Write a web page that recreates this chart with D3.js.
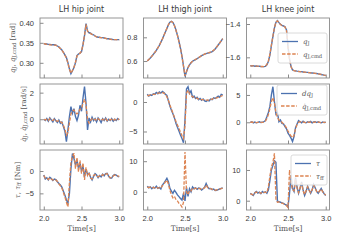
<!DOCTYPE html>
<html>
<head>
<meta charset="utf-8">
<script src="https://cdn.jsdelivr.net/npm/d3@7"></script>
<style>
  body { margin: 0; background: #fff; }
  svg { display: block; }
</style>
</head>
<body>
<div id="chart"></div>
<script>
// time samples [s]
const time = [2.00,2.02,2.04,2.06,2.08,2.10,2.12,2.14,2.16,2.18,2.20,2.22,2.24,2.26,2.28,2.30,2.32,2.34,2.36,2.38,2.40,
  2.42,2.44,2.46,2.48,2.50,2.52,2.54,2.56,2.58,2.60,2.62,2.64,2.66,2.68,2.70,2.72,2.74,2.76,2.78,2.80,
  2.82,2.84,2.86,2.88,2.90,2.92,2.94,2.96,2.98,3.00];

const joints = ["LH hip joint", "LH thigh joint", "LH knee joint"];

// joint positions [rad]
const qHip = [.348,.347,.347,.346,.346,.345,.345,.345,.344,.342,.340,.336,.332,.326,.320,.313,.300,.285,.273,.280,.288,
  .300,.318,.322,.324,.328,.345,.368,.398,.380,.375,.374,.371,.370,.367,.365,.364,.364,.363,.363,.362,
  .361,.360,.360,.359,.359,.358,.358,.358,.358,.358];
const qHipCmd = [.348,.347,.346,.346,.345,.345,.345,.344,.344,.342,.339,.336,.331,.326,.319,.312,.299,.284,.274,.281,.289,
  .301,.317,.321,.324,.329,.346,.369,.396,.379,.375,.373,.371,.369,.367,.365,.364,.363,.363,.362,.362,
  .361,.360,.359,.359,.358,.358,.358,.358,.357,.357];
const qThigh = [.600,.612,.625,.640,.656,.672,.690,.710,.732,.758,.785,.815,.845,.875,.905,.928,.935,.925,.900,.862,.818,
  .765,.708,.640,.560,.470,.510,.545,.568,.585,.598,.606,.612,.620,.628,.636,.645,.652,.658,.663,.667,
  .670,.674,.680,.690,.702,.718,.735,.752,.770,.790];
const qThighCmd = [.601,.613,.626,.641,.657,.673,.691,.711,.733,.759,.786,.816,.846,.876,.906,.929,.934,.924,.898,.860,.816,
  .763,.706,.638,.558,.475,.512,.546,.569,.586,.599,.607,.613,.621,.629,.637,.646,.653,.659,.664,.668,
  .671,.675,.681,.691,.703,.719,.736,.753,.771,.789];
const qKnee = [-1.650,-1.652,-1.650,-1.653,-1.652,-1.654,-1.653,-1.655,-1.656,-1.656,-1.654,-1.645,-1.625,-1.586,-1.530,-1.476,-1.425,-1.390,-1.380,-1.392,-1.402,
  -1.408,-1.412,-1.416,-1.436,-1.536,-1.610,-1.655,-1.676,-1.680,-1.681,-1.683,-1.684,-1.686,-1.686,-1.688,-1.689,-1.690,-1.690,-1.692,-1.693,
  -1.694,-1.695,-1.696,-1.697,-1.699,-1.701,-1.703,-1.705,-1.707,-1.708];
const qKneeCmd = [-1.651,-1.651,-1.651,-1.652,-1.653,-1.653,-1.654,-1.655,-1.655,-1.656,-1.653,-1.643,-1.622,-1.582,-1.526,-1.472,-1.422,-1.388,-1.381,-1.393,-1.403,
  -1.409,-1.413,-1.418,-1.440,-1.540,-1.612,-1.656,-1.676,-1.680,-1.682,-1.683,-1.685,-1.686,-1.687,-1.688,-1.689,-1.690,-1.691,-1.692,-1.693,
  -1.694,-1.695,-1.696,-1.698,-1.699,-1.701,-1.703,-1.705,-1.707,-1.708];

// joint velocities [rad/s]
const dqHip = [0.0,-0.1,0.05,-0.15,0.1,-0.05,-0.2,0.05,-0.1,-0.25,-0.05,-0.3,-0.2,-0.55,-0.9,-1.68,-0.8,0.2,0.95,0.45,0.8,
  0.2,-0.1,0.3,1.05,0.6,1.6,2.45,1.2,-0.8,0.1,-0.2,0.15,-0.1,0.05,-0.2,0.1,-0.05,-0.25,0.05,-0.1,
  0.1,-0.15,0.0,-0.1,0.05,-0.15,0.0,-0.1,0.05,-0.05];
const dqHipCmd = [0.0,-0.05,0.0,-0.1,0.05,-0.05,-0.1,0.0,-0.1,-0.15,-0.1,-0.2,-0.25,-0.45,-0.75,-1.2,-1.0,-0.3,0.4,0.6,0.7,
  0.5,0.4,0.5,0.75,0.8,1.2,1.5,1.1,0.0,-0.3,-0.1,0.05,-0.05,0.0,-0.1,0.05,-0.05,-0.1,0.0,-0.05,
  0.05,-0.1,0.0,-0.05,0.0,-0.1,0.0,-0.05,0.0,0.0];
const dqThigh = [1.3,1.0,1.2,1.1,1.4,1.3,1.6,1.4,1.7,1.5,1.8,1.6,1.3,1.1,0.2,-0.7,-1.4,-2.0,-2.7,-3.6,-4.3,
  -4.9,-5.6,-6.2,-6.9,-3.0,2.2,2.6,1.5,1.9,0.8,1.0,0.6,0.8,0.4,0.6,0.3,0.5,0.2,0.1,0.3,
  0.2,0.5,0.4,0.7,0.6,0.8,1.0,0.8,1.3,1.2];
const dqThighCmd = [1.1,1.1,1.2,1.2,1.3,1.3,1.4,1.5,1.5,1.6,1.6,1.5,1.3,0.9,0.3,-0.5,-1.2,-1.9,-2.6,-3.3,-3.9,
  -4.5,-5.1,-5.7,-6.2,-4.0,1.5,2.0,1.4,1.1,0.9,0.8,0.7,0.6,0.5,0.5,0.4,0.4,0.3,0.3,0.3,
  0.3,0.4,0.5,0.6,0.6,0.7,0.8,0.9,1.0,1.1];
const dqKnee = [0.0,0.1,-0.1,0.05,-0.1,0.0,0.1,-0.05,0.0,0.1,0.3,1.0,1.8,2.9,5.0,6.5,3.8,1.5,1.8,0.1,0.4,
  -0.2,-0.3,-0.8,-1.2,-2.0,-2.4,-2.9,-3.5,-2.6,-1.0,-0.3,0.3,0.1,-0.1,0.2,0.0,-0.1,0.1,0.0,0.15,
  -0.1,0.05,0.1,-0.05,0.1,0.0,-0.1,0.05,-0.05,0.0];
const dqKneeCmd = [0.0,0.05,0.0,0.0,-0.05,0.0,0.05,0.0,0.0,0.05,0.2,0.7,1.4,2.5,3.8,4.5,3.5,1.8,0.9,0.4,0.2,
  0.0,-0.3,-0.6,-1.0,-1.6,-2.1,-2.5,-2.8,-2.4,-1.2,-0.4,0.0,0.1,0.0,0.05,0.0,-0.05,0.05,0.0,0.05,
  0.0,0.0,0.05,0.0,0.05,0.0,-0.05,0.0,0.0,0.0];

// joint torques [Nm]
const tauHip = [-0.9,-1.8,-1.5,-2.0,-1.4,-1.7,-2.1,-1.8,-1.9,-2.4,-2.8,-3.1,-3.6,-4.5,-5.4,-6.5,-7.2,-5.0,0.5,3.9,2.8,
  1.3,2.5,0.6,1.7,0.0,1.0,-1.3,0.4,-0.8,-0.5,-1.4,-2.0,-1.2,-0.6,-0.9,-1.5,-1.0,-1.3,-0.7,-1.1,
  -0.6,-0.5,-1.2,-1.6,-1.6,-1.0,-0.8,-0.9,-1.2,-1.3];
const tauHipFf = [-1.0,-1.6,-1.6,-1.9,-1.5,-1.8,-2.0,-1.9,-2.0,-2.3,-2.9,-3.3,-3.8,-4.8,-5.8,-7.0,-8.0,-2.5,2.0,3.2,4.0,
  0.5,3.0,-0.2,2.4,-0.6,1.8,-2.0,0.8,-1.0,-0.3,-1.6,-1.8,-1.0,-0.8,-1.0,-1.3,-1.1,-1.2,-0.8,-1.0,
  -0.7,-0.6,-1.1,-1.5,-1.5,-1.1,-0.9,-1.0,-1.1,-1.2];
const tauThigh = [1.8,1.3,1.6,1.0,1.5,1.2,1.8,1.1,1.4,0.9,2.2,2.8,3.6,4.4,3.3,1.1,0.2,-0.5,0.5,-0.2,-1.0,
  -1.6,-2.2,-2.7,-0.5,-3.0,1.4,-1.5,1.0,0.0,1.6,1.0,1.3,0.8,1.2,1.1,0.6,1.0,1.5,2.7,1.6,
  1.0,1.1,0.7,0.9,0.4,0.5,0.7,0.9,1.1,1.3];
const tauThighFf = [1.5,1.4,1.5,1.2,1.4,1.3,1.6,1.2,1.3,1.2,2.0,2.5,3.2,3.8,2.5,0.5,-1.0,-2.0,-1.5,-2.5,-3.0,
  -3.8,-4.2,-5.0,-3.5,13.0,0.0,-1.0,0.5,0.3,1.2,1.0,1.2,0.9,1.1,1.0,0.8,1.0,1.3,2.2,1.4,
  1.0,1.0,0.8,0.8,0.5,0.6,0.7,0.9,1.0,1.2];
const tauKnee = [2.4,2.0,1.7,2.6,3.0,2.5,2.8,2.3,3.0,2.6,2.9,2.4,3.5,6.5,10.0,11.5,13.0,12.5,-0.2,-0.3,-0.5,
  -0.7,-0.9,-1.2,-1.4,-2.0,2.4,8.3,4.0,3.0,7.5,4.5,2.4,4.0,6.1,3.5,1.7,3.0,4.7,3.5,2.4,
  3.5,5.3,4.2,3.0,2.4,3.2,4.0,3.0,2.2,1.7];
const tauKneeFf = [2.2,2.1,1.9,2.5,2.8,2.6,2.7,2.4,2.8,2.7,2.8,2.6,4.5,8.0,11.0,12.5,15.4,0.5,-0.5,-0.4,-0.6,
  -0.8,-1.0,-1.3,-1.6,-2.2,10.0,6.0,3.5,3.2,7.0,4.0,2.6,4.2,5.8,3.2,2.0,3.2,4.5,3.3,2.6,
  3.6,5.0,4.0,3.0,2.6,3.3,3.8,2.9,2.3,1.8];

// y ranges and tick values
const yDomains = [
  [[0.262, 0.412], [0.457, 0.963], [-1.724, -1.364]],
  [[-1.86, 2.65], [-7.12, 3.05], [-3.97, 7.0]],
  [[-8.72, 4.7], [-5.96, 13.66], [-3.03, 16.5]]
];
const yTicks = [
  [[0.30, 0.35, 0.40], [0.6, 0.8], [-1.6, -1.4]],
  [[0, 2], [-5, 0], [0, 5]],
  [[-5, 0], [0, 10], [0, 10]]
];
const yFormats = [[".2f", ".1f", ".1f"], ["d", "d", "d"], ["d", "d", "d"]];
const xTicks = [2.0, 2.5, 3.0];

const measured = [[qHip, qThigh, qKnee], [dqHip, dqThigh, dqKnee], [tauHip, tauThigh, tauKnee]];
const commanded = [[qHipCmd, qThighCmd, qKneeCmd], [dqHipCmd, dqThighCmd, dqKneeCmd], [tauHipFf, tauThighFf, tauKneeFf]];

// layout
const W = 339, H = 241;
const colLeft = [40, 143.5, 246.5], colW = 83;
const rowTop = [18, 84, 150], rowH = 60;
const blue = "#4c72b0", orange = "#dd8452", spine = "#8a8a8a", ink = "#3a3a3a";

const svg = d3.select("#chart").append("svg")
  .attr("width", W).attr("height", H)
  .style("font-family", "'DejaVu Sans', sans-serif");

const x = d3.scaleLinear().domain([1.95, 3.05]).range([0, colW]);

for (let r = 0; r < 3; r++) {
  for (let c = 0; c < 3; c++) {
    const g = svg.append("g").attr("transform", `translate(${colLeft[c]},${rowTop[r]})`);
    const y = d3.scaleLinear().domain(yDomains[r][c]).range([rowH, 0]);
    const id = `clip${r}${c}`;
    g.append("clipPath").attr("id", id).append("rect").attr("width", colW).attr("height", rowH);

    // y axis, ticks pointing inward
    const ya = g.append("g").call(d3.axisLeft(y).tickValues(yTicks[r][c])
      .tickFormat(d3.format(yFormats[r][c])).tickSizeInner(-3.5).tickSizeOuter(0).tickPadding(6));
    ya.select(".domain").remove();
    ya.selectAll("line").attr("stroke", spine);
    ya.selectAll("text").attr("fill", ink).style("font-size", "7.5px");

    const xa = g.append("g").attr("transform", `translate(0,${rowH})`)
      .call(d3.axisBottom(x).tickValues(xTicks).tickFormat(d3.format(".1f"))
        .tickSizeInner(-3.5).tickSizeOuter(0).tickPadding(6));
    xa.select(".domain").remove();
    xa.selectAll("line").attr("stroke", spine);
    xa.selectAll("text").attr("fill", ink).style("font-size", "7.5px");
    if (r < 2) xa.selectAll("text").remove();

    const line = d3.line().x((d, i) => x(time[i])).y(d => y(d));
    const lines = g.append("g").attr("clip-path", `url(#${id})`);
    lines.append("path").datum(measured[r][c]).attr("d", line)
      .attr("fill", "none").attr("stroke", blue).attr("stroke-width", 1.4);
    lines.append("path").datum(commanded[r][c]).attr("d", line)
      .attr("fill", "none").attr("stroke", orange).attr("stroke-width", 1.3)
      .attr("stroke-dasharray", "3.5,1.6");

    g.append("rect").attr("width", colW).attr("height", rowH)
      .attr("fill", "none").attr("stroke", spine).attr("stroke-width", 0.9);

    if (r === 0) {
      g.append("text").attr("x", colW / 2).attr("y", -6).attr("text-anchor", "middle")
        .attr("fill", ink).style("font-size", "8px").text(joints[c]);
    }
    if (r === 2) {
      g.append("text").attr("x", colW / 2).attr("y", rowH + 21).attr("text-anchor", "middle")
        .attr("fill", "#555").style("font-family", "'DejaVu Serif', serif").style("font-size", "7.5px")
        .text("Time[s]");
    }
  }
}

// math-ish labels: [text, italic?, subscript?]
function richText(sel, parts) {
  parts.forEach(p => {
    const t = sel.append("tspan").text(p[0]);
    if (p[1]) t.style("font-style", "italic");
    if (p[2]) t.attr("baseline-shift", "-25%").style("font-size", "75%");
  });
  return sel;
}

const yLabels = [
  [["q", 1], ["J", 0, 1], [", ", 0], ["q", 1], ["J,cmd", 0, 1], [" [rad]", 0]],
  [["q\u0307", 1], ["J", 0, 1], [", ", 0], ["q\u0307", 1], ["J,cmd", 0, 1], [" [rad/s]", 0]],
  [["\u03c4", 1], [", ", 0], ["\u03c4", 1], ["ff", 0, 1], [" [Nm]", 0]]
];
const yLabelX = [15, 26, 20];
yLabels.forEach((parts, r) => {
  const t = svg.append("text")
    .attr("transform", `translate(${yLabelX[r]},${rowTop[r] + rowH / 2}) rotate(-90)`)
    .attr("text-anchor", "middle").attr("fill", "#555")
    .style("font-family", "'DejaVu Serif', serif").style("font-size", "7px");
  richText(t, parts);
});

// legends in the right column
const legendLabels = [
  [[["q", 1], ["J", 0, 1]], [["q", 1], ["J,cmd", 0, 1]]],
  [[["dq", 1], ["J", 0, 1]], [["q\u0307", 1], ["J,cmd", 0, 1]]],
  [[["\u03c4", 1]], [["\u03c4", 1], ["ff", 0, 1]]]
];
const legendBox = [[278, 33, 49, 30], [277, 85, 50, 30], [291, 155, 36, 30]];
legendLabels.forEach((labels, r) => {
  const [lx, ly, lw, lh] = legendBox[r];
  const lg = svg.append("g").attr("transform", `translate(${lx},${ly})`);
  lg.append("rect").attr("width", lw).attr("height", lh).attr("rx", 2)
    .attr("fill", "#fff").attr("fill-opacity", 0.8).attr("stroke", "#d0d0d0").attr("stroke-width", 0.8);
  labels.forEach((parts, i) => {
    const yy = 8.5 + i * 12.5;
    lg.append("line").attr("x1", 4).attr("x2", 20).attr("y1", yy).attr("y2", yy)
      .attr("stroke", i ? orange : blue).attr("stroke-width", 1.3)
      .attr("stroke-dasharray", i ? "3.5,1.6" : null);
    const t = lg.append("text").attr("x", 25).attr("y", yy + 2.5).attr("fill", "#555")
      .style("font-family", "'DejaVu Serif', serif").style("font-size", "7px");
    richText(t, parts);
  });
});
</script>
</body>
</html>
